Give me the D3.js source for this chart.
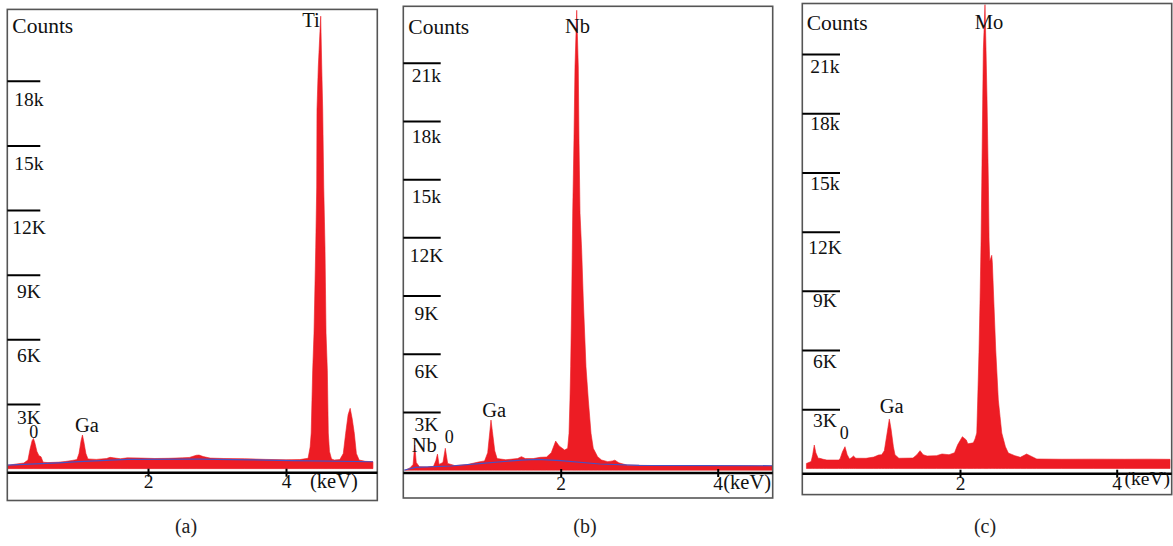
<!DOCTYPE html>
<html><head><meta charset="utf-8">
<script src="https://cdn.jsdelivr.net/npm/d3@7"></script>
<style>
html,body{margin:0;padding:0;background:#fff;}
svg{display:block;font-family:"Liberation Serif","Times New Roman",serif;}
</style></head><body>
<svg id="chart" width="1173" height="546"></svg>
<script>
// ---------------- DATA ----------------
// Panel (a): Ti
const energyA = [-0.04,0.10,0.20,0.26,0.29,0.32,0.34,0.36,0.39,0.42,0.45,0.48,0.55,0.70,0.80,0.90,0.97,1.00,1.03,1.05,1.07,1.10,1.13,1.25,1.40,1.45,1.50,1.60,1.70,1.90,2.10,2.30,2.50,2.60,2.70,2.74,2.80,2.90,3.10,3.40,3.70,4.00,4.20,4.32,4.35,4.365,4.387,4.406,4.431,4.445,4.449,4.468,4.503,4.518,4.532,4.547,4.565,4.580,4.599,4.613,4.63,4.66,4.70,4.78,4.83,4.865,4.90,4.93,4.96,4.99,5.02,5.06,5.15,5.26];
const countsA = [150,220,260,400,900,1300,1400,1200,800,600,550,300,280,300,330,380,420,700,1300,1560,1250,700,450,430,470,525,500,460,500,490,470,480,500,520,620,630,560,490,470,460,430,410,420,480,1000,1650,4570,6290,10280,13070,16640,18640,21000,18640,16640,13070,10280,6290,4570,1650,800,450,400,420,700,1640,2500,2800,2300,1640,700,400,340,320];
const bgEnergyA = [-0.04,0.70,1.00,1.70,2.75,3.50,4.10,5.26];
const bgCountsA = [160,270,330,430,445,410,370,320];

// Panel (b): Nb
const energyB = [0.02,0.08,0.12,0.14,0.16,0.20,0.30,0.38,0.41,0.43,0.45,0.50,0.53,0.56,0.65,0.80,0.95,1.03,1.07,1.10,1.112,1.13,1.16,1.19,1.30,1.45,1.50,1.55,1.65,1.74,1.82,1.88,1.936,1.98,2.05,2.089,2.106,2.118,2.127,2.140,2.153,2.169,2.182,2.204,2.224,2.233,2.246,2.267,2.288,2.322,2.352,2.386,2.415,2.47,2.52,2.60,2.66,2.69,2.74,2.85,3.20,3.60,4.00,4.40,4.70];
const countsB = [0,120,300,1300,400,180,160,200,500,830,300,400,1130,350,240,280,420,480,900,2100,2585,2000,1000,600,540,600,700,600,600,665,680,900,1500,1250,1040,1130,1900,3615,5330,8770,13250,17000,20780,23700,20780,17000,13250,11340,8770,5330,3615,1900,1130,700,525,440,480,520,380,260,240,230,230,225,220];
const bgEnergyB = [0,0.15,0.60,1.00,1.50,1.70,2.00,2.50,3.00,4.70];
const bgCountsB = [0,150,216,355,525,560,490,320,250,230];

// Panel (c): Mo
const energyC = [0.04,0.10,0.12,0.14,0.16,0.19,0.21,0.255,0.30,0.45,0.47,0.50,0.532,0.56,0.59,0.62,0.64,0.67,0.80,0.90,0.96,1.00,1.034,1.07,1.098,1.12,1.15,1.17,1.22,1.40,1.45,1.49,1.53,1.58,1.70,1.77,1.86,1.93,1.97,2.03,2.08,2.10,2.17,2.192,2.214,2.226,2.243,2.256,2.269,2.278,2.290,2.298,2.319,2.332,2.345,2.362,2.371,2.38,2.405,2.413,2.431,2.456,2.489,2.533,2.58,2.617,2.70,2.77,2.85,2.92,2.98,3.30,3.70,4.10,4.40,4.68];
const countsC = [260,350,700,1190,800,520,517,466,430,430,500,850,1105,700,480,560,634,520,517,580,684,700,900,1800,2510,2000,1100,700,520,530,700,903,700,634,650,735,700,800,1200,1612,1450,1250,1300,1500,1800,3470,6010,8540,11580,14470,18680,21220,23500,21220,18680,14470,11580,10500,10800,10420,8540,6010,3470,1800,1100,785,650,568,735,600,482,470,475,470,475,466];

// Axis ticks and labels
const yTickValuesA = [3000,6000,9000,12000,15000,18000];
const yTickLabelsA = ["3K","6K","9K","12K","15k","18k"];
const yTickValuesBC = [3000,6000,9000,12000,15000,18000,21000];
const yTickLabelsBC = ["3K","6K","9K","12K","15k","18k","21k"];
const xTickValues = [2,4];
const xTickLabels = ["2","4"];
const unitLabel = "(keV)";
const yTitle = "Counts";
const panelLabels = ["(a)","(b)","(c)"];
// peak annotations: text, energy (keV), counts (anchor of text baseline)
const peakLabelsA = [["Ti",4.362,20510],["0",0.343,1406],["Ga",1.116,1685]];
const peakLabelsB = [["Nb",2.214,22520],["Ga",1.153,2758],["0",0.580,1418],["Nb",0.262,954]];
const peakLabelsC = [["Mo",2.371,22260],["Ga",1.129,2798],["0",0.522,1480]];

// ---------------- LAYOUT ----------------
const layout = [
  {box:[7.3,9.4,377.3,500.5], xr:[10,286], yd:[3000,18000], yr:[404,80.8], axisY:472.7, tickLen:33, lblDx:21.7, lblDy:[19,22,23,23,24,25], xLblY:488, unitX:310, unitY:488, unitSize:20.5, capX:186,
   energy:energyA, counts:countsA, bgE:bgEnergyA, bgC:bgCountsA, yTV:yTickValuesA, yTL:yTickLabelsA, peaks:peakLabelsA, titleY:33},
  {box:[403.3,6.3,772.7,498], xr:[403.7,717.7], yd:[3000,21000], yr:[412,62.7], axisY:473, tickLen:37.4, lblDx:23.2, lblDy:[18,24,24,24,23,22,18.6], xLblY:490, unitX:723.3, unitY:489, unitSize:20.5, capX:585,
   energy:energyB, counts:countsB, bgE:bgEnergyB, bgC:bgCountsB, yTV:yTickValuesBC, yTL:yTickLabelsBC, peaks:peakLabelsB, titleY:33.5},
  {box:[802.3,3.5,1171.7,494.6], xr:[803.3,1116.7], yd:[3000,21000], yr:[409.3,54], axisY:473.7, tickLen:37.7, lblDx:22.7, lblDy:[17.5,17.5,16,22,17,16,18], xLblY:490, unitX:1124.5, unitY:485, unitSize:19.5, capX:985,
   energy:energyC, counts:countsC, bgE:null, bgC:null, yTV:yTickValuesBC, yTL:yTickLabelsBC, peaks:peakLabelsC, titleY:30}
];
const titleX = [12.3, 408.3, 806.7];
const RED = "#ed1c24", BLUE = "#4651c4";

const svg = d3.select("#chart");
const defs = svg.append("defs");

layout.forEach((L, i) => {
  const [bx0, by0, bx1, by1] = L.box;
  const x = d3.scaleLinear().domain([0,4]).range(L.xr);
  const y = d3.scaleLinear().domain(L.yd).range(L.yr);
  const g = svg.append("g");

  defs.append("clipPath").attr("id","clip"+i).append("rect")
    .attr("x",bx0).attr("y",by0).attr("width",bx1-bx0).attr("height",by1-by0);

  // spectrum area
  const pts = d3.zip(L.energy, L.counts);
  const area = d3.area().x(d=>x(d[0])).y0(y(0)).y1(d=>y(d[1]));
  g.append("path").datum(pts).attr("d",area).attr("fill",RED)
    .attr("stroke",RED).attr("stroke-width",0.6).attr("clip-path","url(#clip"+i+")");

  // background fit line
  if (L.bgE) {
    const line = d3.line().x(d=>x(d[0])).y(d=>y(d[1]));
    g.append("path").datum(d3.zip(L.bgE, L.bgC)).attr("d",line)
      .attr("fill","none").attr("stroke",BLUE).attr("stroke-width",1.2);
  }

  // border
  g.append("rect").attr("x",bx0).attr("y",by0).attr("width",bx1-bx0).attr("height",by1-by0)
    .attr("fill","none").attr("stroke","#555").attr("stroke-width",1.6);

  // y axis (horizontal tick bars with labels beneath)
  const yAxis = d3.axisRight(y).tickValues(L.yTV).tickSize(L.tickLen)
    .tickFormat((d,k)=>L.yTL[k]);
  const ya = g.append("g").attr("transform",`translate(${bx0},0)`).call(yAxis);
  ya.select(".domain").remove();
  ya.selectAll(".tick line").attr("stroke","#000").attr("stroke-width",2);
  ya.selectAll(".tick text").attr("x",L.lblDx).attr("dy",(d,k)=>L.lblDy[k]).attr("y",0)
    .attr("text-anchor","middle").attr("fill","#111")
    .style("font-size","19.5px").style("font-family",'"Liberation Serif",serif');

  // x axis line across the frame
  g.append("line").attr("x1",bx0).attr("x2",bx1).attr("y1",L.axisY).attr("y2",L.axisY)
    .attr("stroke","#000").attr("stroke-width",2.4);
  const xAxis = d3.axisBottom(x).tickValues(xTickValues).tickSize(4)
    .tickFormat((d,k)=>xTickLabels[k]);
  const xa = g.append("g").attr("transform",`translate(0,${L.axisY})`).call(xAxis);
  xa.select(".domain").remove();
  xa.selectAll(".tick line").attr("y1",-4).attr("y2",4).attr("stroke","#000").attr("stroke-width",2);
  xa.selectAll(".tick text").attr("y",0).attr("dy",L.xLblY-L.axisY).attr("fill","#111")
    .style("font-size","19.5px").style("font-family",'"Liberation Serif",serif');

  // unit label
  g.append("text").attr("x",L.unitX).attr("y",L.unitY).text(unitLabel)
    .style("font-size",L.unitSize+"px").attr("fill","#111");

  // y title
  g.append("text").attr("x",titleX[i]).attr("y",L.titleY).text(yTitle)
    .style("font-size","21.5px").attr("fill","#111");

  // peak labels
  L.peaks.forEach(p => {
    g.append("text").attr("x",x(p[1])).attr("y",y(p[2])).attr("text-anchor","middle")
      .text(p[0]).style("font-size", p[0]==="0" ? "18px" : "20.5px").attr("fill","#111");
  });

  // panel caption
  svg.append("text").attr("x",L.capX).attr("y",533).attr("text-anchor","middle")
    .text(panelLabels[i]).style("font-size","20px").attr("fill","#222");
});
</script>
</body></html>
